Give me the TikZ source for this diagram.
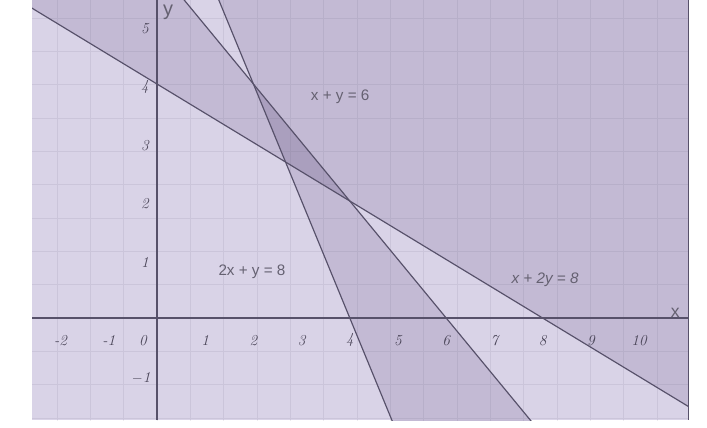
\documentclass[tikz,border=0pt]{standalone}
\usepackage{fontspec}
\setsansfont{Liberation Sans}
\usepackage{tikz}
\usetikzlibrary{positioning,calc}
\usepackage{xcolor}
\definecolor{planelight}{HTML}{D9D3E7}
\definecolor{planemid}{HTML}{C3BAD4}
\definecolor{planedark}{HTML}{AA9FBE}
\definecolor{planeline}{HTML}{57516A}
\definecolor{planetext}{HTML}{4A4558}

\begin{document}
\begin{tikzpicture}[x=1.446cm, y=1.755cm,
    eqline/.style={draw=planeline, line width=1pt},
    axisline/.style={draw=planeline, line width=0.9pt},
    tick/.style={font=\fontsize{13}{15}\selectfont\itshape, text=planetext, inner sep=1pt},
    eqlabel/.style={font=\sffamily\fontsize{13}{15}\selectfont, text=planetext!85!white, inner sep=1pt},
]
\useasboundingbox (-3.257,-1.863) rectangle (11.41,5.436);
\fill[white] (-3.257,-1.863) rectangle (11.41,5.436);

% frame of the plot
\coordinate (sw) at (-2.593,-1.744);
\coordinate (ne) at (11.02,5.436);

% end points of the three lines
\coordinate (p1) at (-4,6);   \coordinate (p2) at (14,-3);    % x+2y=8
\coordinate (q1) at (-4,10);  \coordinate (q2) at (14,-8);    % x+y=6
\coordinate (r1) at (0.5,7);  \coordinate (r2) at (5.5,-3);   % 2x+y=8
\coordinate (v1) at (2,4);    \coordinate (v2) at (8/3,8/3);  \coordinate (v3) at (4,2);

\begin{scope}
\clip (sw) rectangle (ne);
\fill[planelight] (sw) rectangle (ne);
\fill[planemid, even odd rule]
    (p1) -- (p2) -- (14,8) -- (-4,8) -- cycle
    (q1) -- (q2) -- (14,10) -- cycle
    (r1) -- (r2) -- (14,-3) -- (14,7) -- cycle;
\fill[planedark] (v1) -- (v2) -- (v3) -- cycle;

% faint grid
\draw[planeline, opacity=0.1, line width=0.5pt] (-3,-2) grid (12,6);

\draw[axisline] (sw |- 0,0) -- (ne |- 0,0);
\draw[axisline] (sw -| 0,0) -- (ne -| 0,0);

\draw[eqline] (p1) -- (p2);
\draw[eqline] (q1) -- (q2);
\draw[eqline] (r1) -- (r2);
\end{scope}
\draw[planeline, line width=1.1pt] (ne) -- (ne |- sw);

% tick labels
\foreach \n in {-2,-1,1,2,...,10}
  \node[tick] (xt\n) at (\n,-0.38) {\n};
\node[tick] (xt0) at (-0.29,-0.38) {0};
\foreach \n in {1,...,5}
  \node[tick] (yt\n) at (-0.25,\n-0.05) {\n};
\node[tick] (ytm1) at (-0.33,-1.03) {$-$1};

\node[eqlabel, font=\sffamily\fontsize{15}{17}\selectfont] (xlbl) at (10.75,0.09) {x};
\node[eqlabel, font=\sffamily\fontsize{17}{19}\selectfont] (ylbl) at (0.23,5.23) {y};

\node[eqlabel] (eq1) at (3.8,3.78) {x + y = 6};
\node[eqlabel] (eq2) at (1.97,0.79) {2x + y = 8};
\node[eqlabel] (eq3) at (8.05,0.65) {\itshape x + 2y = 8};
\end{tikzpicture}
\end{document}
